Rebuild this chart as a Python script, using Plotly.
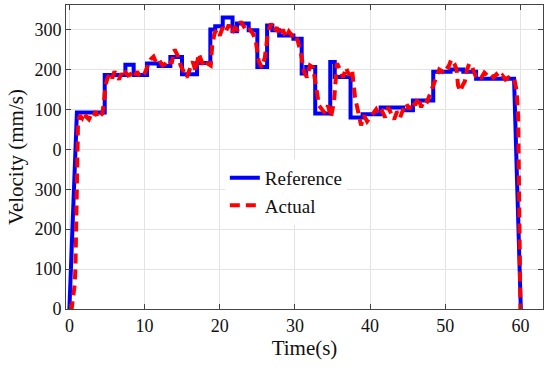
import plotly.graph_objects as go

# Reference velocity profile (axis units; tick labels are relabelled as in the source figure)
ref_t = [0, 1.0, 4.7, 4.7, 7.45, 7.45, 8.55, 8.55, 10.33, 10.33, 11.88, 11.88, 13.43, 13.43,
         14.98, 14.98, 16.98, 16.98, 18.75, 18.75, 19.4, 19.4, 20.4, 20.4, 21.7, 21.7, 22.3, 22.3,
         23.85, 23.85, 25.0, 25.0, 26.3, 26.3, 27.0, 27.0, 27.9, 27.9, 29.8, 29.8, 30.9, 30.9,
         31.5, 31.5, 32.7, 32.7, 34.7, 34.7, 35.3, 35.3, 37.4, 37.4, 39.0, 39.0, 41.4, 41.4,
         44.4, 44.4, 45.7, 45.7, 48.4, 48.4, 50.7, 50.7, 52.4, 52.4, 54.1, 54.1, 59.15, 60.05]
ref_v = [0, 492, 492, 586, 586, 612, 612, 586, 586, 615, 615, 609, 609, 631,
         631, 588, 588, 616, 616, 700, 700, 708, 708, 730, 730, 696, 696, 715,
         715, 698, 698, 606, 606, 710, 710, 698, 698, 685, 685, 677, 677, 590,
         590, 606, 606, 490, 490, 619, 619, 581, 581, 480, 480, 488, 488, 505,
         505, 498, 498, 522, 522, 594, 594, 600, 600, 594, 594, 577, 577, 0]

# Measured (actual) velocity
act_t = [0, 0.3, 0.5, 0.7, 0.8, 0.93, 1.0, 1.06, 1.15, 1.4, 1.7, 2.0, 2.3, 2.6, 2.9, 3.2, 3.5,
         3.8, 4.1, 4.4, 4.6, 4.8, 5.1, 5.4, 5.7, 6.0, 6.3, 6.6, 6.9, 7.2, 7.5, 7.8, 8.1, 8.4,
         8.7, 9.0, 9.3, 9.6, 10.0, 10.4, 10.8, 11.2, 11.6, 12.0, 12.4, 12.8, 13.2, 13.6, 14.0,
         14.4, 14.8, 15.2, 15.6, 16.0, 16.4, 16.8, 17.2, 17.6, 18.0, 18.4, 18.8, 19.0, 19.3,
         19.6, 20.0, 20.4, 20.8, 21.2, 21.6, 22.0, 22.4, 22.8, 23.2, 23.6, 24.0, 24.4, 24.8,
         25.2, 25.6, 26.0, 26.4, 26.8, 27.2, 27.6, 28.0, 28.4, 28.8, 29.2, 29.6, 30.0, 30.4,
         30.8, 31.2, 31.6, 32.0, 32.4, 32.8, 33.2, 33.6, 34.0, 34.4, 34.8, 35.2, 35.6, 36.0,
         36.4, 36.8, 37.2, 37.6, 38.0, 38.4, 38.8, 39.2, 39.6, 40.0, 40.4, 40.8, 41.2, 41.6,
         42.0, 42.4, 42.8, 43.2, 43.6, 44.0, 44.4, 44.8, 45.2, 45.6, 46.0, 46.4, 46.8, 47.2,
         47.6, 48.0, 48.4, 48.8, 49.2, 49.6, 50.0, 50.4, 50.8, 51.2, 51.5, 51.7, 52.0, 52.3,
         52.6, 52.9, 53.2, 53.6, 54.0, 54.4, 54.8, 55.2, 55.6, 56.0, 56.4, 56.8, 57.2, 57.6,
         58.0, 58.4, 58.8, 59.2, 59.5, 59.7, 59.85, 60.0]
act_v = [0, 0, 30, 60, 100, 200, 300, 400, 470, 485, 478, 492, 480, 475, 488, 482, 495,
         478, 483, 490, 520, 560, 580, 590, 578, 595, 585, 575, 590, 580, 592, 585, 588, 578,
         583, 595, 586, 580, 590, 605, 625, 632, 615, 622, 610, 615, 625, 615, 650,
         635, 610, 595, 580, 600, 620, 595, 640, 620, 605, 615, 610, 660, 690,
         700, 685, 705, 695, 712, 690, 705, 700, 720, 705, 695, 700, 690, 670,
         620, 605, 630, 690, 715, 695, 705, 685, 700, 680, 695, 685, 690, 670,
         640, 595, 580, 610, 605, 560, 510, 500, 490, 510, 480, 520, 615, 600,
         580, 605, 585, 600, 530, 495, 460, 485, 470, 480, 490, 500, 485, 495,
         480, 505, 490, 475, 495, 480, 500, 515, 500, 520, 510, 530, 505, 525,
         520, 540, 565, 585, 600, 595, 610, 605, 625, 615, 600, 560, 545, 560,
         570, 600, 615, 605, 585, 590, 580, 592, 585, 590, 580, 588, 578, 585,
         575, 580, 575, 575, 545, 480, 250, 0]

y_tickvals = [0, 100, 200, 300, 400, 500, 600, 700]
y_ticktext = ["0", "100", "200", "300", "0", "100", "200", "300"]
x_tickvals = [0, 10, 20, 30, 40, 50, 60]

FONT = "Liberation Serif"

fig = go.Figure()
fig.add_trace(go.Scatter(x=ref_t, y=ref_v, mode="lines", name="Reference",
                         line=dict(color="#0000ff", width=4)))
fig.add_trace(go.Scatter(x=act_t, y=act_v, mode="lines", name="Actual",
                         line=dict(color="#ff0000", width=4, dash="10px,6px")))

axis_common = dict(showline=True, linecolor="#444444", linewidth=1, mirror="allticks",
                   ticks="inside", ticklen=5, tickcolor="#444444", showgrid=True,
                   gridcolor="#e3e3e3", gridwidth=1, zeroline=False, automargin=False,
                   tickfont=dict(family=FONT, size=18, color="#111111"))

fig.update_layout(
    width=550, height=370,
    margin=dict(l=66, r=7, t=5, b=61),
    paper_bgcolor="white", plot_bgcolor="white",
    font=dict(family=FONT, color="#111111"),
    xaxis=dict(range=[-0.45, 63.0], tickvals=x_tickvals,
               title=dict(text="Time(s)", font=dict(family=FONT, size=21), standoff=4),
               **axis_common),
    yaxis=dict(range=[0, 761.5], tickvals=y_tickvals, ticktext=y_ticktext,
               title=dict(text="Velocity (mm/s)", font=dict(family=FONT, size=21), standoff=5),
               **axis_common),
    legend=dict(x=0.333, y=0.494, xanchor="left", yanchor="top", bgcolor="white",
                borderwidth=0, font=dict(family=FONT, size=19, color="#111111"),
                tracegroupgap=0),
    showlegend=True,
)

fig.write_html("out.html", config={"displayModeBar": False},
               post_script="document.body.style.margin='0';")
